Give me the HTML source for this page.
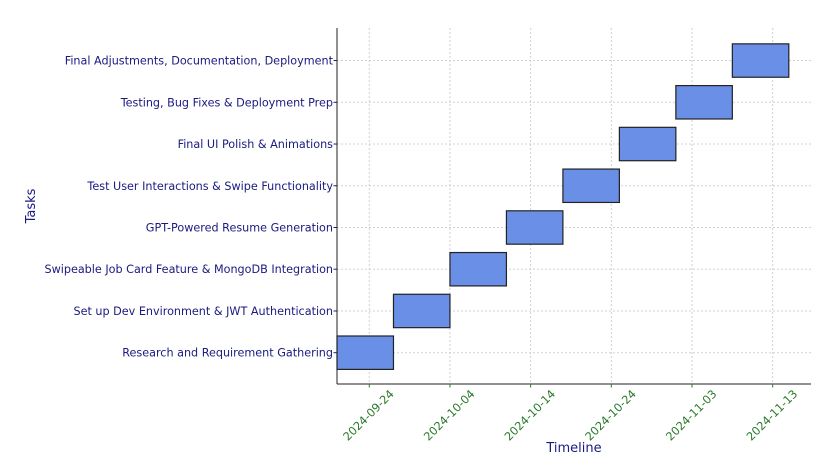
<!DOCTYPE html>
<html><head><meta charset="utf-8"><style>
body{margin:0;background:#fff}
svg{display:block;font-family:"DejaVu Sans","Liberation Sans",sans-serif}
</style></head><body>
<svg id="chart" width="834" height="466"></svg>
<script>
const tasks=["Research and Requirement Gathering","Set up Dev Environment & JWT Authentication","Swipeable Job Card Feature & MongoDB Integration","GPT-Powered Resume Generation","Test User Interactions & Swipe Functionality","Final UI Polish & Animations","Testing, Bug Fixes & Deployment Prep","Final Adjustments, Documentation, Deployment"];
const starts=["2024-09-20","2024-09-27","2024-10-04","2024-10-11","2024-10-18","2024-10-25","2024-11-01","2024-11-08"];
const ends=["2024-09-27","2024-10-04","2024-10-11","2024-10-18","2024-10-25","2024-11-01","2024-11-08","2024-11-15"];
const ticks=["2024-09-24","2024-10-04","2024-10-14","2024-10-24","2024-11-03","2024-11-13"];

const NS="http://www.w3.org/2000/svg";
const svg=document.getElementById('chart');
const L=337,R=811,T=28,B=384;
const d0=Date.parse("2024-09-20"),d1=Date.parse("2024-11-17")+0.75*864e5;
const x=s=>L+(Date.parse(s)-d0)/(d1-d0)*(R-L);
const yMin=-0.75,yMax=7.78;
const y=i=>B-(i-yMin)/(yMax-yMin)*(B-T);
const bh=0.8*(B-T)/(yMax-yMin);
function el(t,a,p){const e=document.createElementNS(NS,t);for(const k in a)e.setAttribute(k,a[k]);(p||svg).appendChild(e);return e;}

ticks.forEach(t=>{const g=el('line',{x1:x(t),x2:x(t),y1:T,y2:B,stroke:'#d0d0d0','stroke-dasharray':'2,2','stroke-width':1});

});
tasks.forEach((t,i)=>{const g=el('line',{x1:L,x2:R,y1:y(i),y2:y(i),stroke:'#d0d0d0','stroke-dasharray':'2,2','stroke-width':1});

});

tasks.forEach((t,i)=>{const r=el('rect',{x:x(starts[i]),y:y(i)-bh/2,width:x(ends[i])-x(starts[i]),height:bh,fill:'#6a8fe6',stroke:'#222','stroke-width':1.2});

});

const ls=el('line',{x1:L,x2:L,y1:T,y2:B,stroke:'#222','stroke-width':1});


const bs=el('line',{x1:L,x2:R,y1:B,y2:B,stroke:'#222','stroke-width':1});



tasks.forEach((t,i)=>{
 el('line',{x1:L-3.5,x2:L,y1:y(i),y2:y(i),stroke:'#1a1a80'});
 const tx=el('text',{x:L-4,y:y(i)+4,'text-anchor':'end','font-size':11.2,fill:'#1a1a80'});tx.textContent=t;
 
 });

ticks.forEach(t=>{const X=x(t);
 el('line',{x1:X,x2:X,y1:B,y2:B+3.5,stroke:'#2a7a2a'});
 const ax=X+2,ay=B+34;
 const tx=el('text',{x:ax,y:ay,'text-anchor':'middle','font-size':11.4,fill:'#2a7a2a',transform:`rotate(-45 ${ax} ${ay})`});tx.textContent=t;
 
 });

const xt=el('text',{x:574,y:452,'text-anchor':'middle','font-size':13,fill:'#1a1a80'});xt.textContent='Timeline';


const yt=el('text',{x:35,y:206,'text-anchor':'middle','font-size':13,fill:'#1a1a80',transform:'rotate(-90 35 206)'});yt.textContent='Tasks';


</script>
</body></html>
